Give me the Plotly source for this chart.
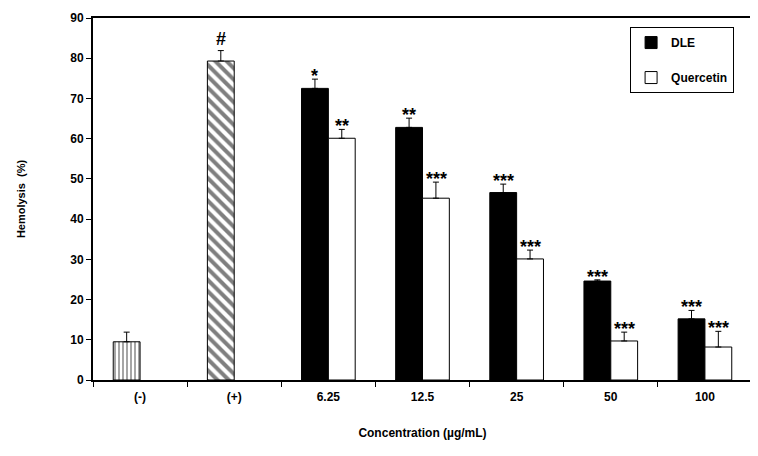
import plotly.graph_objects as go

categories = ["(-)", "(+)", "6.25", "12.5", "25", "50", "100"]
control_cats = ["(-)", "(+)"]
control_vals = [9.5, 79.3]
control_err = [2.4, 2.6]
control_marks = ["", "#"]

conc_cats = ["6.25", "12.5", "25", "50", "100"]
dle_vals = [72.5, 62.8, 46.6, 24.6, 15.2]
dle_err = [2.3, 2.3, 2.1, 0.3, 2.1]
dle_marks = ["*", "**", "***", "***", "***"]
que_vals = [60.1, 45.2, 30.1, 9.7, 8.2]
que_err = [2.2, 4.0, 2.2, 2.2, 3.9]
que_marks = ["**", "***", "***", "***", "***"]

FONT = "Liberation Sans, Arial, sans-serif"
BAR_PX = 27

fig = go.Figure()
fig.add_trace(go.Bar(
    x=control_cats, y=control_vals, offsetgroup="a", showlegend=False,
    marker=dict(color="white", line=dict(color="black", width=1),
                pattern=dict(shape=["|", "\\"], fgcolor="black", bgcolor="white",
                             size=[4, 8], solidity=[0.35, 0.5])),
    error_y=dict(type="data", array=control_err, arrayminus=[0, 0], symmetric=False,
                 color="black", thickness=1, width=3),
))
fig.add_trace(go.Bar(
    x=conc_cats, y=dle_vals, name="DLE", offsetgroup="a", legendgroup="g1",
    marker=dict(color="black", line=dict(color="black", width=1)),
    error_y=dict(type="data", array=dle_err, arrayminus=[0]*5, symmetric=False,
                 color="black", thickness=1, width=3),
))
fig.add_trace(go.Bar(
    x=conc_cats, y=que_vals, name="Quercetin", offsetgroup="b", legendgroup="g2",
    marker=dict(color="white", line=dict(color="black", width=1)),
    error_y=dict(type="data", array=que_err, arrayminus=[0]*5, symmetric=False,
                 color="black", thickness=1, width=3),
))

# significance marks (x given as category index)
def idx(c):
    return categories.index(c)

for c, v, e, m in zip(control_cats, control_vals, control_err, control_marks):
    if m:
        fig.add_annotation(x=idx(c), y=v + e, text=m, xshift=-BAR_PX/2, yshift=0,
                           yanchor="bottom", showarrow=False,
                           font=dict(family=FONT, size=18, color="black", weight="bold"))
for c, v, e, m in zip(conc_cats, dle_vals, dle_err, dle_marks):
    fig.add_annotation(x=idx(c), y=v + e, text=m, xshift=-BAR_PX/2, yshift=-9,
                       yanchor="bottom", showarrow=False,
                       font=dict(family=FONT, size=18, color="black", weight="bold"))
for c, v, e, m in zip(conc_cats, que_vals, que_err, que_marks):
    fig.add_annotation(x=idx(c), y=v + e, text=m, xshift=BAR_PX/2, yshift=-9,
                       yanchor="bottom", showarrow=False,
                       font=dict(family=FONT, size=18, color="black", weight="bold"))

# the page body keeps an 8px default margin, so the figure is sized to fit inside it
fig.update_layout(
    width=750, height=448,
    margin=dict(l=85, r=6, t=10, b=76),
    paper_bgcolor="white", plot_bgcolor="white",
    barmode="group", bargap=0.43, bargroupgap=0,
    font=dict(family=FONT, size=12, color="black", weight="bold"),
    legend=dict(x=0.815, y=0.975, xanchor="left", yanchor="top",
                bordercolor="black", borderwidth=1, bgcolor="white",
                tracegroupgap=16, traceorder="grouped", itemwidth=30,
                font=dict(family=FONT, size=12, color="black", weight="bold")),
    xaxis=dict(type="category", categoryorder="array", categoryarray=categories,
               range=[-0.5, len(categories) - 0.5], automargin=False,
               showline=True, linecolor="black", linewidth=2, mirror=True,
               ticks="outside", tickson="boundaries", ticklen=5, tickcolor="black",
               tickangle=0, ticklabelstandoff=5,
               tickfont=dict(family=FONT, size=12, weight="bold"),
               title=dict(text="Concentration (µg/mL)", standoff=25,
                          font=dict(family=FONT, size=12, weight="bold"))),
    yaxis=dict(range=[0, 90], dtick=10, showgrid=False, zeroline=False, automargin=False,
               showline=True, linecolor="black", linewidth=2, mirror=True,
               ticks="outside", ticklen=5, tickcolor="black",
               tickfont=dict(family=FONT, size=12, weight="bold"),
               title=dict(text="Hemolysis  (%)", standoff=42,
                          font=dict(family=FONT, size=11, weight="bold"))),
)

fig.write_html("out.html")
